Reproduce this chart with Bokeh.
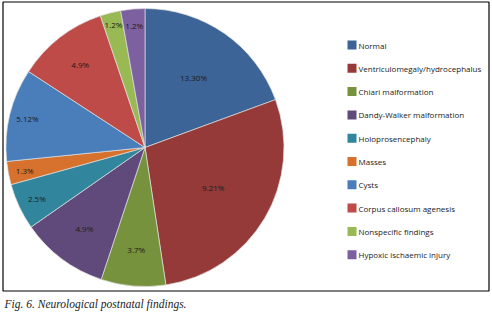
import numpy as np
from bokeh.plotting import figure
from bokeh.models import Range1d, ColumnDataSource
from bokeh.core.properties import value
from bokeh.embed import file_html
from bokeh.resources import INLINE

# ---- data ----
categories = ["Normal", "Ventriculomegaly/hydrocephalus", "Chiari malformation",
              "Dandy-Walker malformation", "Holoprosencephaly", "Masses", "Cysts",
              "Corpus callosum agenesis", "Nonspecific findings", "Hypoxic ischaemic injury"]
# slice shares (% of pie)
shares = [19.4, 28.2, 7.5, 10.2, 5.4, 2.7, 10.8, 10.6, 2.4, 2.8]
# printed slice labels
labels = ["13.30%", "9.21%", "3.7%", "4.9%", "2.5%", "1.3%", "5.12%", "4.9%", "1.2%", "1.2%"]
caption = "Fig. 6. Neurological postnatal findings."

# ---- style ----
colors = ["#3D6497", "#953A39", "#76923C", "#604A7B", "#31859C",
          "#D6712E", "#4A7EBB", "#BE4B48", "#98B954", "#7D60A0"]
label_r = [0.61, 0.57, 0.74, 0.73, 0.86, 0.88, 0.87, 0.76, 0.91, 0.88]

W, H = 492, 316
p = figure(width=W, height=H, x_range=Range1d(0, W), y_range=Range1d(0, H),
           output_backend="svg", toolbar_location=None, min_border=0)
p.axis.visible = False
p.grid.visible = False
p.outline_line_color = None
p.background_fill_color = "white"
p.border_fill_color = "white"

cx, cy, R = 144.5, H - 147, 139
vals = np.array(shares, dtype=float)
frac = vals / vals.sum()
cum = np.concatenate([[0], np.cumsum(frac)])
start = np.pi / 2 - cum[:-1] * 2 * np.pi
end = np.pi / 2 - cum[1:] * 2 * np.pi
mid = (start + end) / 2

src = ColumnDataSource(dict(start=start, end=end, color=colors))
p.wedge(x=cx, y=cy, radius=R, start_angle="start", end_angle="end",
        direction="clock", fill_color="color", line_color="#e0e0e0",
        line_width=0.7, source=src)

lr = np.array(label_r) * R
p.text(x=cx + lr * np.cos(mid), y=cy + lr * np.sin(mid), text=labels,
       text_font=value("Open Sans"), text_font_size="8px", text_color="#1a1a1a",
       text_align="center", text_baseline="middle")

# legend
n = len(categories)
ly = H - (44.5 + np.arange(n) * 23.3)
p.rect(x=[351.5] * n, y=ly, width=9, height=9, fill_color=colors, line_color=None)
p.text(x=[358] * n, y=ly, text=categories, text_font=value("Open Sans"),
       text_font_size="8px", text_color="#1a1a1a", text_baseline="middle")

# frame
p.quad(left=2.5, right=488.5, bottom=H - 290.5, top=H - 1.5,
       fill_color=None, line_color="black", line_width=1.2)

# caption
p.text(x=[4], y=[H - 303.5], text=[caption], text_font=value("Liberation Serif"),
       text_font_style="italic", text_font_size="11.5px", text_color="#222222",
       text_baseline="middle")

open("out.html", "w").write(file_html(p, INLINE))
